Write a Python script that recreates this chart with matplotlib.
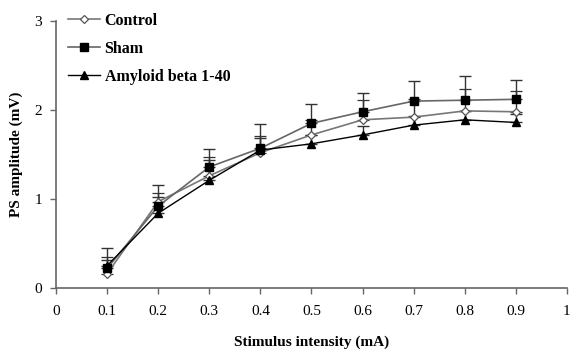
import matplotlib
matplotlib.use("Agg")
import matplotlib.pyplot as plt
from matplotlib.lines import Line2D

intensity = [0.1, 0.2, 0.3, 0.4, 0.5, 0.6, 0.7, 0.8, 0.9]
control = [0.16, 0.97, 1.26, 1.52, 1.72, 1.89, 1.92, 1.99, 1.98]
control_err = [0.19, 0.10, 0.21, 0.19, 0.17, 0.22, 0.20, 0.25, 0.23]
sham = [0.22, 0.92, 1.36, 1.57, 1.85, 1.98, 2.10, 2.11, 2.12]
sham_err = [0.23, 0.24, 0.20, 0.27, 0.22, 0.21, 0.23, 0.27, 0.22]
amyloid = [0.25, 0.84, 1.21, 1.55, 1.62, 1.72, 1.83, 1.89, 1.86]
amyloid_err = [0.06, 0.18, 0.23, 0.14, 0.10, 0.10, 0.10, 0.10, 0.10]
xticks = [0, 0.1, 0.2, 0.3, 0.4, 0.5, 0.6, 0.7, 0.8, 0.9, 1]
xtick_labels = ["0", "0.1", "0.2", "0.3", "0.4", "0.5", "0.6", "0.7", "0.8", "0.9", "1"]
yticks = [0, 1, 2, 3]
labels = ['Control', 'Sham', 'Amyloid beta 1-40']

plt.rcParams['font.family'] = ['Liberation Serif', 'DejaVu Serif']

fig = plt.figure(figsize=(5.73, 3.49), dpi=100)
ax = fig.add_axes([0.0977, 0.1748, 0.8918, 0.765])

eb_kw = dict(capsize=4, capthick=1, elinewidth=1, ecolor='#333333')
styles = [
    dict(color='#777777', lw=1.2, marker='D', ms=4.5, mfc='white', mec='#555555', mew=0.9),
    dict(color='#666666', lw=1.2, marker='s', ms=6, mfc='black', mec='black'),
    dict(color='black', lw=1.0, marker='^', ms=6, mfc='black', mec='black'),
]
for vals, errs, st in zip([control, sham, amyloid], [control_err, sham_err, amyloid_err], styles):
    ax.errorbar(intensity, vals, yerr=[[0]*len(errs), errs], **st, **eb_kw)

ax.set_xlim(0, 1)
ax.set_ylim(0, 3)
ax.set_xticks(xticks)
ax.set_xticklabels(xtick_labels)
ax.set_yticks(yticks)
ax.tick_params(axis='both', direction='out', length=4, width=1, color='#666666',
               labelsize=11)
ax.tick_params(axis='x', pad=8)
ax.tick_params(axis='y', pad=6)
for s in ['top', 'right']:
    ax.spines[s].set_visible(False)
for s in ['left', 'bottom']:
    ax.spines[s].set_color('#666666')
    ax.spines[s].set_linewidth(1.2)

ax.set_xlabel('Stimulus intensity (mA)', fontsize=11, fontweight='bold', labelpad=13)
ax.set_ylabel('PS amplitude (mV)', fontsize=11, fontweight='bold', labelpad=8)

handles = [Line2D([], [], **st) for st in styles]
leg = ax.legend(handles, labels, loc='upper left', bbox_to_anchor=(-0.005, 1.085), frameon=False,
                prop={'weight': 'bold', 'size': 11.5}, handlelength=2.0,
                handletextpad=0.3, labelspacing=0.75)

fig.savefig('out.png', dpi=100)
